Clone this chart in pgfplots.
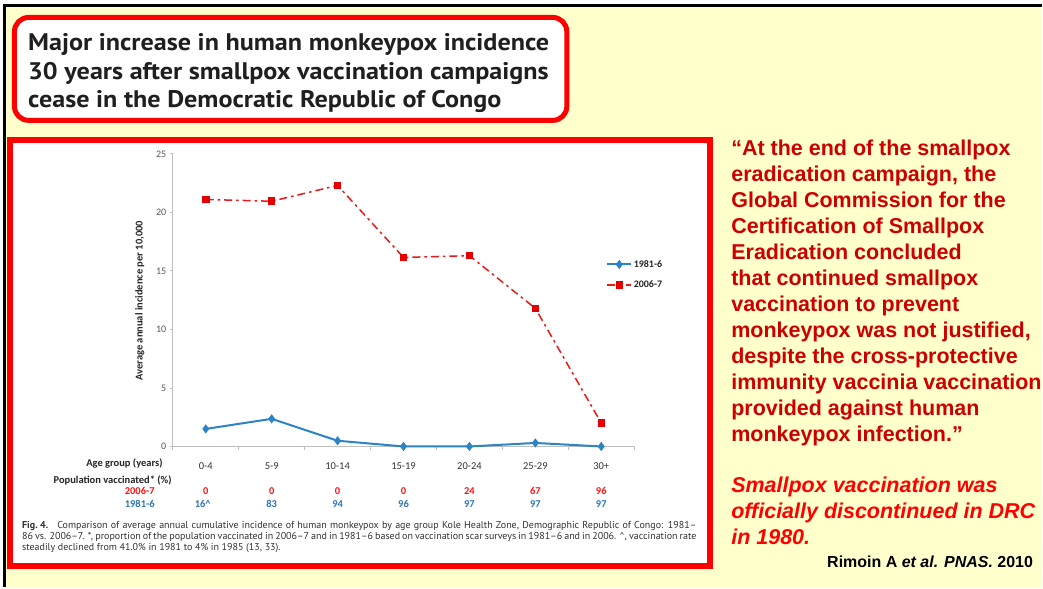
\documentclass[border=0pt]{standalone}
\usepackage{pgfplots}
\pgfplotsset{compat=1.18}
\usepackage{pgfplotstable}
\usepackage{fontspec}
\setmainfont{Liberation Sans}
\newfontfamily\calibri{Carlito}
\newfontfamily\ptsans{PT Sans}
\definecolor{bgyellow}{RGB}{255,255,204}
\definecolor{framered}{RGB}{255,0,0}
\definecolor{quotered}{RGB}{204,0,0}
\definecolor{sblue}{RGB}{44,131,198}
\definecolor{sred}{RGB}{230,0,0}
\definecolor{axgray}{RGB}{191,191,191}
\definecolor{txtgray}{RGB}{89,89,89}
\definecolor{valblue}{RGB}{46,117,182}
\definecolor{valred}{RGB}{255,20,20}
\definecolor{captxt}{RGB}{50,50,50}

\pgfplotstableread{
x y
0 1.5
1 2.36
2 0.49
3 0.0
4 0.0
5 0.3
6 0.0
}\dataA
\pgfplotstableread{
x y
0 21.1
1 20.95
2 22.3
3 16.15
4 16.3
5 11.8
6 2.0
}\dataB

\begin{document}
\begin{tikzpicture}
\begin{scope}[x=1pt,y=-1pt]
\fill[white] (0,0) rectangle (1043,588);
\fill[bgyellow] (4.5,5.5) rectangle (1043,588);
\draw[black, line width=2.5pt] (4.5,588) -- (4.5,5.5) -- (1043,5.5);
\draw[framered, line width=5pt, fill=white, rounded corners=14pt] (14.5,17.5) rectangle (567.5,120.5);
\draw[framered, line width=6pt, fill=white] (10,140) rectangle (711,567);
% title
\foreach \t/\yy in {{Major increase in human monkeypox incidence}/51,
                    {30 years after smallpox vaccination campaigns}/80,
                    {cease in the Democratic Republic of Congo}/108}
  \node[anchor=base west, inner sep=0pt, font=\ptsans\bfseries\fontsize{24}{28}\selectfont, text=black!88] at (28,\yy) {\scalebox{1.09}[1]{\t}};
% quote
\foreach \t/\yy in {{“At the end of the smallpox}/156,
                    {eradication campaign, the}/182,
                    {Global Commission for the}/208,
                    {Certification of Smallpox}/234,
                    {Eradication concluded}/260,
                    {that continued smallpox}/286,
                    {vaccination to prevent}/312,
                    {monkeypox was not justified,}/338,
                    {despite the cross-protective}/364,
                    {immunity vaccinia vaccination}/390,
                    {provided against human}/416,
                    {monkeypox infection.”}/442}
  \node[anchor=base west, inner sep=0pt, font=\bfseries\fontsize{21.5}{26}\selectfont, text=quotered] at (732,\yy) {\t};
\foreach \t/\yy in {{Smallpox vaccination was}/493,
                    {officially discontinued in DRC}/519,
                    {in 1980.}/545}
  \node[anchor=base west, inner sep=0pt, font=\bfseries\itshape\fontsize{21.5}{26}\selectfont, text=framered] at (732,\yy) {\t};
\node[anchor=base west, inner sep=0pt, font=\bfseries\fontsize{16}{18}\selectfont] at (828,568) {Rimoin A \textit{et al. PNAS.} 2010};
% table row labels
\node[anchor=base east, inner sep=0pt, font=\calibri\bfseries\fontsize{10.5}{12}\selectfont, text=black!85] at (163,467.5) {Age group (years)};
\node[anchor=base east, inner sep=0pt, font=\calibri\bfseries\fontsize{10.5}{12}\selectfont, text=black!85] at (172,484) {Population vaccinated* (\%)};
\node[anchor=base east, inner sep=0pt, font=\calibri\bfseries\fontsize{10.5}{12}\selectfont, text=valred] at (155,495.5) {2006-7};
\node[anchor=base east, inner sep=0pt, font=\calibri\bfseries\fontsize{10.5}{12}\selectfont, text=valblue] at (155,508.5) {1981-6};
% caption
\node[anchor=base west, inner sep=0pt, font=\ptsans\fontsize{10}{11}\selectfont, text=captxt] at (22,529) {\makebox[675pt][s]{\hbox{\textbf{Fig.\kern2.5pt4.}}\hspace{9pt}Comparison of average annual cumulative incidence of human monkeypox by age group Kole Health Zone, Demographic Republic of Congo: 1981–}};
\node[anchor=base west, inner sep=0pt, font=\ptsans\fontsize{10}{11}\selectfont, text=captxt] at (22,540) {\makebox[675pt][s]{86 vs. 2006–7. *, proportion of the population vaccinated in 2006–7 and in 1981–6 based on vaccination scar surveys in 1981–6 and in 2006. \textasciicircum, vaccination rate}};
\node[anchor=base west, inner sep=0pt, font=\ptsans\fontsize{10}{11}\selectfont, text=captxt] at (22,551) {steadily declined from 41.0\% in 1981 to 4\% in 1985 (13, 33).};
\end{scope}

\begin{axis}[
  at={(173pt,-447pt)}, anchor=south west,
  scale only axis, width=462pt, height=293pt,
  xmin=-0.5, xmax=6.5, ymin=0, ymax=25,
  axis x line*=bottom, axis y line*=left,
  axis line style={axgray, line width=0.8pt},
  tick align=outside,
  xtick={0,...,6},
  xticklabels={0-4,5-9,10-14,15-19,20-24,25-29,30+},
  major x tick style={draw=none},
  minor xtick={-0.5,0.5,...,6.5},
  minor x tick style={axgray, line width=0.8pt},
  minor tick length=4pt,
  major tick length=3pt,
  ytick={0,5,...,25},
  y tick style={axgray, line width=0.8pt},
  /pgf/number format/assume math mode=true,
  yticklabel style={font=\calibri\fontsize{10}{12}\selectfont, text=txtgray},
  xticklabel style={font=\calibri\fontsize{10.5}{12}\selectfont, text=black!80, anchor=base, yshift=-20.5pt},
  ylabel={Average annual incidence per 10,000},
  ylabel style={font=\calibri\bfseries\fontsize{10.5}{12}\selectfont, text=black!85, at={(axis description cs:-0.0714,0.498)}, anchor=center},
  clip=false,
  legend style={draw=none, fill=none, at={(axis description cs:0.939,0.642)}, anchor=north west,
     font=\calibri\bfseries\fontsize{10}{12}\selectfont, text=black!85, row sep=9pt, inner sep=0pt,
     nodes={inner sep=1.5pt}},
  legend cell align=left,
  legend image code/.code={\draw[mark repeat=2,mark phase=2] plot coordinates {(0pt,0pt)(12pt,0pt)(24pt,0pt)};},
]
\addplot[color=sblue, line width=2pt, mark=diamond*, mark size=3pt, mark options={solid, fill=sblue}] table[x=x,y=y] {\dataA};
\addlegendentry{1981-6}
\addplot[color=sred!90, line width=1.5pt, dash pattern=on 8pt off 4pt on 2.5pt off 4pt, mark=square*, mark size=3pt, mark options={solid, fill=sred, draw=sred}] table[x=x,y=y] {\dataB};
\addlegendentry{2006-7}
% population vaccinated values
\node[anchor=base, inner sep=0pt, font=\calibri\bfseries\fontsize{10.5}{12}\selectfont, text=valred, yshift=-48.5pt] at (axis cs:0,0) {0};
\node[anchor=base, inner sep=0pt, font=\calibri\bfseries\fontsize{10.5}{12}\selectfont, text=valred, yshift=-48.5pt] at (axis cs:1,0) {0};
\node[anchor=base, inner sep=0pt, font=\calibri\bfseries\fontsize{10.5}{12}\selectfont, text=valred, yshift=-48.5pt] at (axis cs:2,0) {0};
\node[anchor=base, inner sep=0pt, font=\calibri\bfseries\fontsize{10.5}{12}\selectfont, text=valred, yshift=-48.5pt] at (axis cs:3,0) {0};
\node[anchor=base, inner sep=0pt, font=\calibri\bfseries\fontsize{10.5}{12}\selectfont, text=valred, yshift=-48.5pt] at (axis cs:4,0) {24};
\node[anchor=base, inner sep=0pt, font=\calibri\bfseries\fontsize{10.5}{12}\selectfont, text=valred, yshift=-48.5pt] at (axis cs:5,0) {67};
\node[anchor=base, inner sep=0pt, font=\calibri\bfseries\fontsize{10.5}{12}\selectfont, text=valred, yshift=-48.5pt] at (axis cs:6,0) {96};
\node[anchor=base, inner sep=0pt, font=\calibri\bfseries\fontsize{10.5}{12}\selectfont, text=valblue, yshift=-61.5pt, xshift=-3pt] at (axis cs:0,0) {16\textasciicircum};
\node[anchor=base, inner sep=0pt, font=\calibri\bfseries\fontsize{10.5}{12}\selectfont, text=valblue, yshift=-61.5pt] at (axis cs:1,0) {83};
\node[anchor=base, inner sep=0pt, font=\calibri\bfseries\fontsize{10.5}{12}\selectfont, text=valblue, yshift=-61.5pt] at (axis cs:2,0) {94};
\node[anchor=base, inner sep=0pt, font=\calibri\bfseries\fontsize{10.5}{12}\selectfont, text=valblue, yshift=-61.5pt] at (axis cs:3,0) {96};
\node[anchor=base, inner sep=0pt, font=\calibri\bfseries\fontsize{10.5}{12}\selectfont, text=valblue, yshift=-61.5pt] at (axis cs:4,0) {97};
\node[anchor=base, inner sep=0pt, font=\calibri\bfseries\fontsize{10.5}{12}\selectfont, text=valblue, yshift=-61.5pt] at (axis cs:5,0) {97};
\node[anchor=base, inner sep=0pt, font=\calibri\bfseries\fontsize{10.5}{12}\selectfont, text=valblue, yshift=-61.5pt] at (axis cs:6,0) {97};
\end{axis}
\end{tikzpicture}
\end{document}
